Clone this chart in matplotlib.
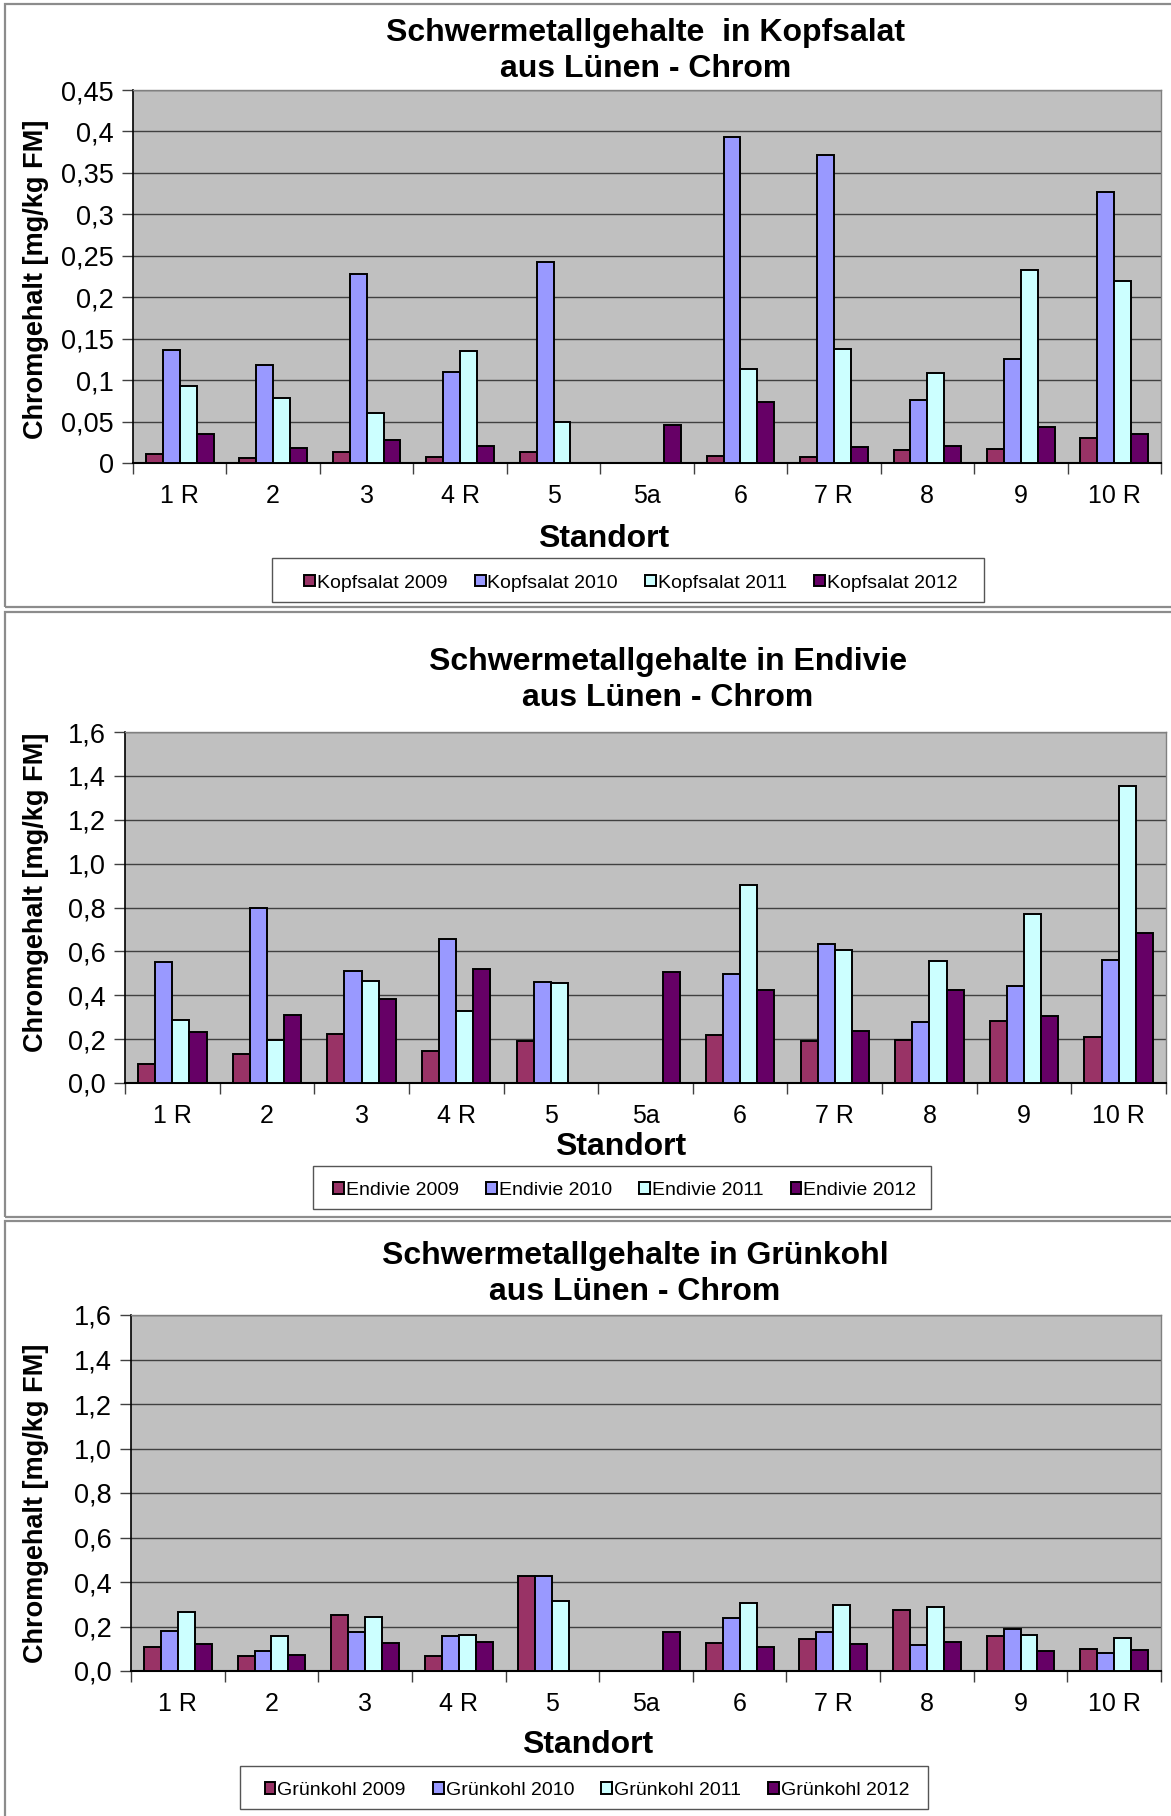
import numpy as np
import matplotlib
matplotlib.use("Agg")
import matplotlib.pyplot as plt
from matplotlib.patches import Rectangle
from matplotlib.ticker import FixedLocator, FuncFormatter

plt.rcParams['font.family'] = ['Liberation Sans', 'DejaVu Sans']

standorte = ["1 R", "2", "3", "4 R", "5", "5a", "6", "7 R", "8", "9", "10 R"]
years = ["2009", "2010", "2011", "2012"]
nan = np.nan

kopf_2009 = [0.011, 0.006, 0.013, 0.007, 0.013, nan, 0.008, 0.007, 0.016, 0.017, 0.030]
kopf_2010 = [0.136, 0.118, 0.228, 0.110, 0.243, nan, 0.393, 0.372, 0.076, 0.125, 0.327]
kopf_2011 = [0.093, 0.078, 0.060, 0.135, 0.050, nan, 0.113, 0.137, 0.109, 0.233, 0.220]
kopf_2012 = [0.035, 0.018, 0.028, 0.021, nan, 0.046, 0.074, 0.019, 0.021, 0.043, 0.035]

endi_2009 = [0.087, 0.130, 0.222, 0.145, 0.193, nan, 0.220, 0.192, 0.197, 0.284, 0.211]
endi_2010 = [0.552, 0.796, 0.509, 0.656, 0.461, nan, 0.497, 0.635, 0.278, 0.440, 0.561]
endi_2011 = [0.289, 0.197, 0.466, 0.330, 0.454, nan, 0.903, 0.607, 0.557, 0.772, 1.353]
endi_2012 = [0.232, 0.312, 0.385, 0.518, nan, 0.506, 0.426, 0.238, 0.422, 0.307, 0.685]

gruen_2009 = [0.108, 0.067, 0.253, 0.069, 0.425, nan, 0.126, 0.143, 0.272, 0.158, 0.100]
gruen_2010 = [0.182, 0.089, 0.175, 0.158, 0.425, nan, 0.237, 0.177, 0.117, 0.189, 0.079]
gruen_2011 = [0.263, 0.157, 0.241, 0.163, 0.315, nan, 0.305, 0.296, 0.287, 0.163, 0.150]
gruen_2012 = [0.120, 0.074, 0.124, 0.129, nan, 0.175, 0.108, 0.120, 0.132, 0.089, 0.095]

colors = ["#993366", "#9999FF", "#CCFFFF", "#660066"]

W, H = 1171, 1816
fig = plt.figure(figsize=(W / 100, H / 100), dpi=100)
fig.patch.set_facecolor("white")


def fx(x):
    return x / W


def fy(y):
    return 1 - y / H


def fmt_general(v, pos):
    s = ("%.2f" % v).rstrip("0").rstrip(".")
    return s.replace(".", ",")


def fmt_one(v, pos):
    return ("%.1f" % v).replace(".", ",")


panels = [
    dict(name="Kopfsalat", series=[kopf_2009, kopf_2010, kopf_2011, kopf_2012],
         title="Schwermetallgehalte  in Kopfsalat\naus Lünen - Chrom",
         box=(133, 1161, 90, 463), ymax=0.45, ystep=0.05, fmt=fmt_general,
         title_xy=(646, 51), xlabel_xy=(604, 539), ylabel_xy=(36, 279),
         legend_box=(272, 984, 558, 602), border=(5, 4, 607)),
    dict(name="Endivie", series=[endi_2009, endi_2010, endi_2011, endi_2012],
         title="Schwermetallgehalte in Endivie\naus Lünen - Chrom",
         box=(125, 1166, 732, 1083), ymax=1.6, ystep=0.2, fmt=fmt_one,
         title_xy=(668, 680), xlabel_xy=(621, 1147), ylabel_xy=(36, 892),
         legend_box=(313, 931, 1166, 1209), border=(5, 612, 1217)),
    dict(name="Grünkohl", series=[gruen_2009, gruen_2010, gruen_2011, gruen_2012],
         title="Schwermetallgehalte in Grünkohl\naus Lünen - Chrom",
         box=(131, 1161, 1315, 1671), ymax=1.6, ystep=0.2, fmt=fmt_one,
         title_xy=(635, 1274), xlabel_xy=(588, 1745), ylabel_xy=(36, 1503),
         legend_box=(240, 928, 1766, 1809), border=(5, 1221, 1830)),
]

x = np.arange(len(standorte))
bw = 0.181
offsets = (np.arange(4) - 1.5) * bw

for p in panels:
    bx0, by0, by1 = p["border"]
    fig.patches.append(Rectangle((fx(bx0), fy(by1)), fx(W + 20 - bx0), (by1 - by0) / H,
                                 transform=fig.transFigure, fill=False,
                                 edgecolor="#8c8c8c", linewidth=1.6, zorder=0))
    l, r, t, b = p["box"]
    ax = fig.add_axes([fx(l), fy(b), (r - l) / W, (b - t) / H])
    ax.set_facecolor("#C0C0C0")
    handles = []
    for i, (vals, col) in enumerate(zip(p["series"], colors)):
        vals = np.array(vals, dtype=float)
        m = ~np.isnan(vals)
        bars = ax.bar(x[m] + offsets[i], vals[m], width=bw, color=col,
                      edgecolor="black", linewidth=1.4, zorder=3,
                      label=f"{p['name']} {years[i]}")
        handles.append(bars)
    ax.set_xlim(-0.5, len(standorte) - 0.5)
    ax.set_ylim(0, p["ymax"])
    yt = np.round(np.arange(0, p["ymax"] + 1e-9, p["ystep"]), 3)
    ax.yaxis.set_major_locator(FixedLocator(yt))
    ax.yaxis.set_major_formatter(FuncFormatter(p["fmt"]))
    ax.grid(axis="y", color="#404040", linewidth=1.0, zorder=1)
    ax.set_axisbelow(True)
    ax.set_xticks(x)
    ax.set_xticklabels(standorte)
    ax.set_xticks(np.arange(-0.5, len(standorte)), minor=True)
    ax.tick_params(axis="x", which="major", length=0, pad=15, labelsize=18)
    ax.tick_params(axis="x", which="minor", length=8, width=1, color="#404040", direction="out")
    ax.tick_params(axis="y", length=8, width=1, color="#404040", direction="out", pad=6, labelsize=19.5)
    for s in ("top", "right"):
        ax.spines[s].set_color("#808080")
        ax.spines[s].set_linewidth(1.0)
    ax.spines["left"].set_color("black")
    ax.spines["bottom"].set_color("black")
    ax.spines["left"].set_linewidth(1.2)
    ax.spines["bottom"].set_linewidth(1.5)

    tx, ty = p["title_xy"]
    fig.text(fx(tx), fy(ty), p["title"], ha="center", va="center",
             fontsize=23, fontweight="bold", linespacing=1.25)
    lx, ly = p["xlabel_xy"]
    fig.text(fx(lx), fy(ly), "Standort", ha="center", va="center",
             fontsize=23, fontweight="bold")
    yx, yy = p["ylabel_xy"]
    fig.text(fx(yx), fy(yy), "Chromgehalt [mg/kg FM]", ha="center", va="center",
             rotation=90, fontsize=19.5, fontweight="bold")

    lb0, lb1, lt, lbm = p["legend_box"]
    fig.patches.append(Rectangle((fx(lb0), fy(lbm)), (lb1 - lb0) / W, (lbm - lt) / H,
                                 transform=fig.transFigure, facecolor="white",
                                 edgecolor="#555555", linewidth=1.0, zorder=1))
    leg = fig.legend(handles=handles, loc="center", ncol=4,
                     bbox_to_anchor=(fx((lb0 + lb1) / 2 + 3), fy((lt + lbm) / 2 + 3)),
                     bbox_transform=fig.transFigure, fontsize=14,
                     handlelength=0.55, handleheight=0.55, handletextpad=0.1,
                     columnspacing=1.4, borderaxespad=0, borderpad=0.2,
                     frameon=False)

fig.savefig("out.png", dpi=100, facecolor="white")
